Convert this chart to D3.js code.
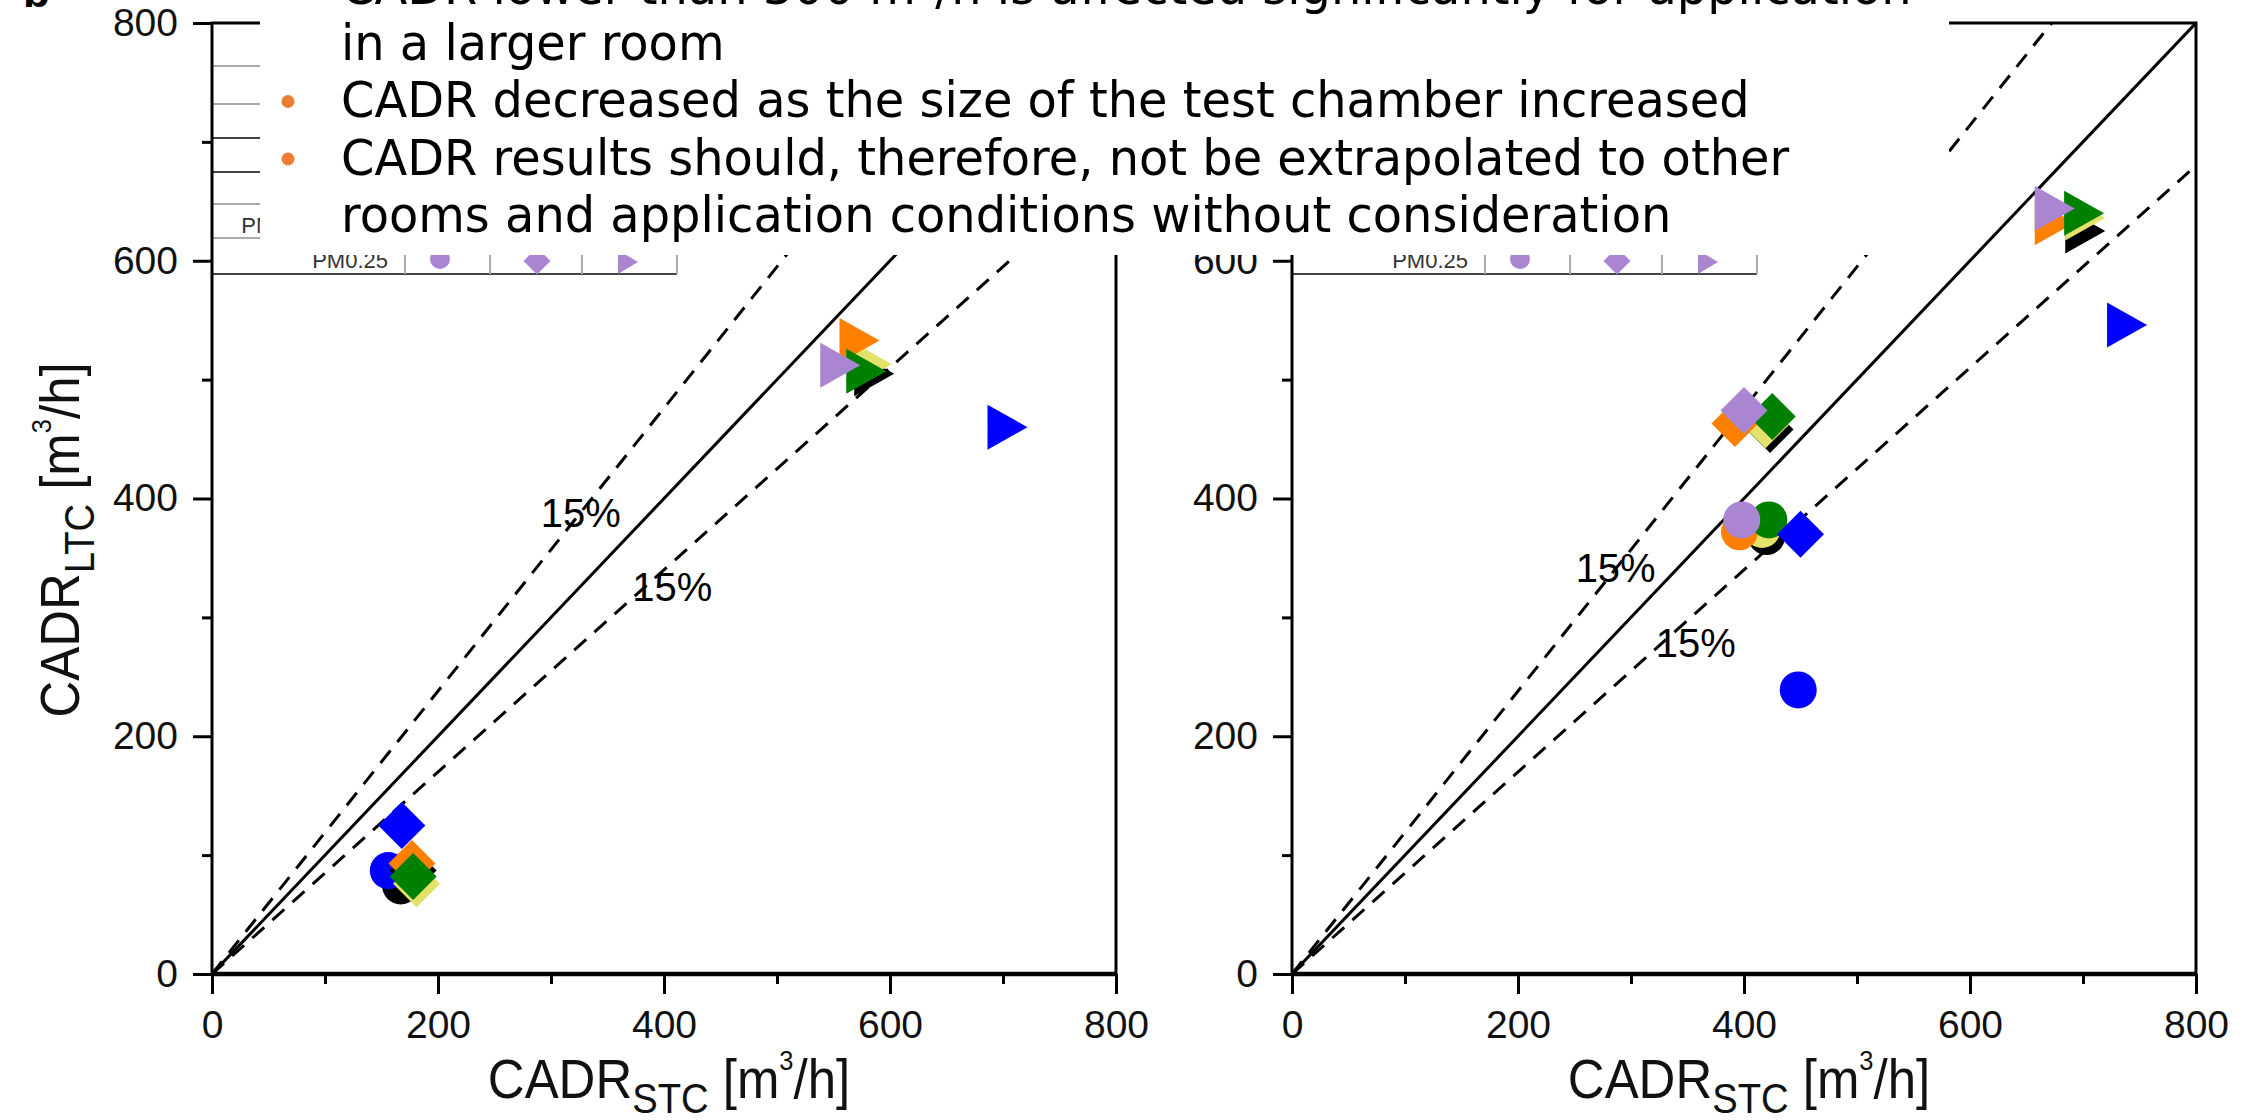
<!DOCTYPE html>
<html>
<head>
<meta charset="utf-8">
<script src="https://cdn.jsdelivr.net/npm/d3@7"></script>
<style>
  body { margin: 0; background: #fff; }
  svg { display: block; }
</style>
</head>
<body>
<svg id="chart" width="2245" height="1120"></svg>
<script>
// axis ticks
var tickValues = [0, 200, 400, 600, 800];
var minorTickValues = [100, 300, 500, 700];

// legend rows, top to bottom (black, yellow, orange, green, blue, purple)
var seriesNames = ["PM10", "PM2.5-PM10", "PM1-PM2.5", "PM0.5-PM1", "PM0.25-PM0.5", "PM0.25"];
var seriesColors = ["#000000", "#e3e36c", "#ff7f00", "#008000", "#0000ff", "#aa86d2"];

// [CADR_STC, CADR_LTC] per series, null where nothing shows
var leftCircles   = [[167, 74], null, [171, 87], null, [156, 87], null];
var leftDiamonds  = [[178, 87], [181, 76], [177, 93], [178, 82], [168, 125], null];
var leftTriangles = [[586, 505], [584, 513], [573, 533], [579, 507], [704, 460], [556, 512]];

var rightCircles   = [[420, 368], [416, 374], [396, 372], [422, 382], [448, 239], [398, 382]];
var rightDiamonds  = [[423, 458], [419, 462], [392, 463], [425, 469], [450, 370], [400, 474]];
var rightTriangles = [[702, 625], [702, 636], [675, 632], [701, 640], [739, 546], [675, 644]];

// 1:1 line and the two 15% lines
var refSlopes = [1, 1.19, 0.85];
var refDashed = [false, true, true];

// "15%" labels, data units (start x, baseline y)
var leftLabels  = [[291, 376], [372, 314]];
var rightLabels = [[251, 330], [322, 267]];

// text of the slide box laid over the top
var noteLines = [
    "CADR lower than 300 m\u00b3/h is affected significantly for application",
    "in a larger room",
    "CADR decreased as the size of the test chamber increased",
    "CADR results should, therefore, not be extrapolated to other",
    "rooms and application conditions without consideration"
];
var noteBullets = [true, false, true, true, false];

var svg = d3.select("#chart");
var W = 904, H = 951, TOP = 23;
var axisFont = "'Liberation Sans', Arial, Helvetica, sans-serif";

var x = d3.scaleLinear().domain([0, 800]).range([0, W]);
var y = d3.scaleLinear().domain([0, 800]).range([H, 0]);

function diamondPath(cx, cy, h) {
    return "M" + cx + "," + (cy - h) + "L" + (cx + h) + "," + cy +
        "L" + cx + "," + (cy + h) + "L" + (cx - h) + "," + cy + "Z";
}
function trianglePath(cx, cy, hw, hh) {
    return "M" + (cx - hw) + "," + (cy - hh) + "L" + (cx + hw) + "," + cy +
        "L" + (cx - hw) + "," + (cy + hh) + "Z";
}

function drawPanel(left, id, circles, diamonds, triangles, labels) {
    var g = svg.append("g").attr("transform", "translate(" + left + "," + TOP + ")");

    g.append("clipPath").attr("id", "clip" + id)
        .append("rect").attr("width", W).attr("height", H);

    // legend table in the top-left corner
    var rowLines = [43, 81, 115, 149, 181, 215, 251];
    var rowDark = [false, false, true, true, false, false, true];
    var colLines = [193, 278, 370, 465];
    var lg = g.append("g");
    rowLines.forEach(function(ry, i) {
        lg.append("line").attr("x1", 0).attr("x2", 465).attr("y1", ry).attr("y2", ry)
            .attr("stroke", rowDark[i] ? "#444" : "#aaa").attr("stroke-width", 2);
    });
    colLines.forEach(function(cx) {
        lg.append("line").attr("x1", cx).attr("x2", cx).attr("y1", 0).attr("y2", 251)
            .attr("stroke", "#aaa").attr("stroke-width", 2);
    });
    seriesNames.forEach(function(name, i) {
        var top = rowLines[i], bottom = rowLines[i + 1];
        var cy = (top + bottom) / 2 + 5;
        lg.append("text").attr("x", 176).attr("y", cy + 7)
            .attr("text-anchor", "end").attr("font-family", axisFont)
            .attr("font-size", 22).attr("fill", "#333").text(name);
        lg.append("circle").attr("cx", 228).attr("cy", cy - 2).attr("r", 10)
            .attr("fill", seriesColors[i]);
        lg.append("path").attr("d", diamondPath(325, cy, 13.5)).attr("fill", seriesColors[i]);
        lg.append("path").attr("d", trianglePath(416, cy + 1, 10, 12)).attr("fill", seriesColors[i]);
    });

    // reference lines
    var rl = g.append("g").attr("clip-path", "url(#clip" + id + ")");
    refSlopes.forEach(function(m, i) {
        var xe = Math.min(800, 800 / m);
        rl.append("line")
            .attr("x1", x(0)).attr("y1", y(0))
            .attr("x2", x(xe)).attr("y2", y(xe * m))
            .attr("stroke", "#000").attr("stroke-width", 3)
            .attr("stroke-dasharray", refDashed[i] ? "16,11" : null);
    });

    labels.forEach(function(p) {
        g.append("text").attr("x", x(p[0])).attr("y", y(p[1]))
            .attr("font-family", axisFont).attr("font-size", 40).text("15%");
    });

    // markers: circles, then diamonds, then triangles
    var mk = g.append("g");
    circles.forEach(function(p, i) {
        if (!p) return;
        mk.append("circle").attr("cx", x(p[0])).attr("cy", y(p[1])).attr("r", 18.5)
            .attr("fill", seriesColors[i]);
    });
    diamonds.forEach(function(p, i) {
        if (!p) return;
        mk.append("path").attr("d", diamondPath(x(p[0]), y(p[1]), 23.5)).attr("fill", seriesColors[i]);
    });
    triangles.forEach(function(p, i) {
        if (!p) return;
        mk.append("path").attr("d", trianglePath(x(p[0]), y(p[1]), 20, 22.5)).attr("fill", seriesColors[i]);
    });

    // axes
    var ax = g.append("g").attr("transform", "translate(0," + H + ")")
        .call(d3.axisBottom(x).tickValues(tickValues).tickSize(20).tickSizeOuter(0).tickPadding(16));
    var axm = g.append("g").attr("transform", "translate(0," + H + ")")
        .call(d3.axisBottom(x).tickValues(minorTickValues).tickSize(10).tickSizeOuter(0).tickFormat(""));
    var ay = g.append("g")
        .call(d3.axisLeft(y).tickValues(tickValues).tickSize(19).tickSizeOuter(0).tickPadding(15));
    var aym = g.append("g")
        .call(d3.axisLeft(y).tickValues(minorTickValues).tickSize(10).tickSizeOuter(0).tickFormat(""));
    [ax, axm, ay, aym].forEach(function(a) {
        a.select(".domain").remove();
        a.selectAll(".tick line").attr("stroke", "#000").attr("stroke-width", 3);
        a.selectAll("text").attr("font-family", axisFont).attr("font-size", 39).attr("fill", "#111");
    });

    // frame
    g.append("rect").attr("width", W).attr("height", H)
        .attr("fill", "none").attr("stroke", "#000").attr("stroke-width", 3);
    g.append("line").attr("x1", 0).attr("x2", W).attr("y1", H).attr("y2", H)
        .attr("stroke", "#000").attr("stroke-width", 4.5);

    // x title
    var xt = g.append("text").attr("text-anchor", "middle")
        .attr("transform", "translate(" + (W / 2 + 5) + "," + (H + 124) + ") scale(0.91,1)")
        .attr("font-family", axisFont).attr("font-size", 56).attr("fill", "#111");
    xt.append("tspan").text("CADR");
    xt.append("tspan").attr("dy", 15).attr("font-size", 42).text("STC");
    xt.append("tspan").attr("dy", -15).text(" [m");
    xt.append("tspan").attr("dy", -28).attr("font-size", 28).text("3");
    xt.append("tspan").attr("dy", 28).text("/h]");
    return g;
}

var leftPanel = drawPanel(212, "L", leftCircles, leftDiamonds, leftTriangles, leftLabels);
drawPanel(1292, "R", rightCircles, rightDiamonds, rightTriangles, rightLabels);

// y title on the left panel
var yt = svg.append("text").attr("text-anchor", "middle")
    .attr("transform", "translate(79,540) rotate(-90) scale(0.91,1)")
    .attr("font-family", axisFont).attr("font-size", 56).attr("fill", "#111");
yt.append("tspan").text("CADR");
yt.append("tspan").attr("dy", 15).attr("font-size", 42).text("LTC");
yt.append("tspan").attr("dy", -15).text(" [m");
yt.append("tspan").attr("dy", -28).attr("font-size", 28).text("3");
yt.append("tspan").attr("dy", 28).text("/h]");

// panel letter
svg.append("text").attr("x", 23).attr("y", 7)
    .attr("font-family", axisFont).attr("font-weight", "bold").attr("font-size", 44).text("b");

// white slide text box over the top
svg.append("rect").attr("x", 260).attr("y", 0).attr("width", 1689).attr("height", 255)
    .attr("fill", "#fff");

var baselines = [3.5, 60, 117.5, 175, 232.5];
var note = svg.append("g");
var noteText = [];
noteLines.forEach(function(t, i) {
    noteText.push(note.append("text").attr("x", 0).attr("y", baselines[i])
        .attr("font-family", "'DejaVu Sans', Verdana, sans-serif")
        .attr("font-size", 49).attr("fill", "#000").text(t));
    if (noteBullets[i]) {
        svg.append("circle").attr("cx", 288).attr("cy", baselines[i] - 16).attr("r", 6.5)
            .attr("fill", "#ed7d31");
    }
});
var sx = 1409 / noteText[2].node().getComputedTextLength();
note.attr("transform", "translate(341,0) scale(" + sx + ",1)");
</script>
</body>
</html>
